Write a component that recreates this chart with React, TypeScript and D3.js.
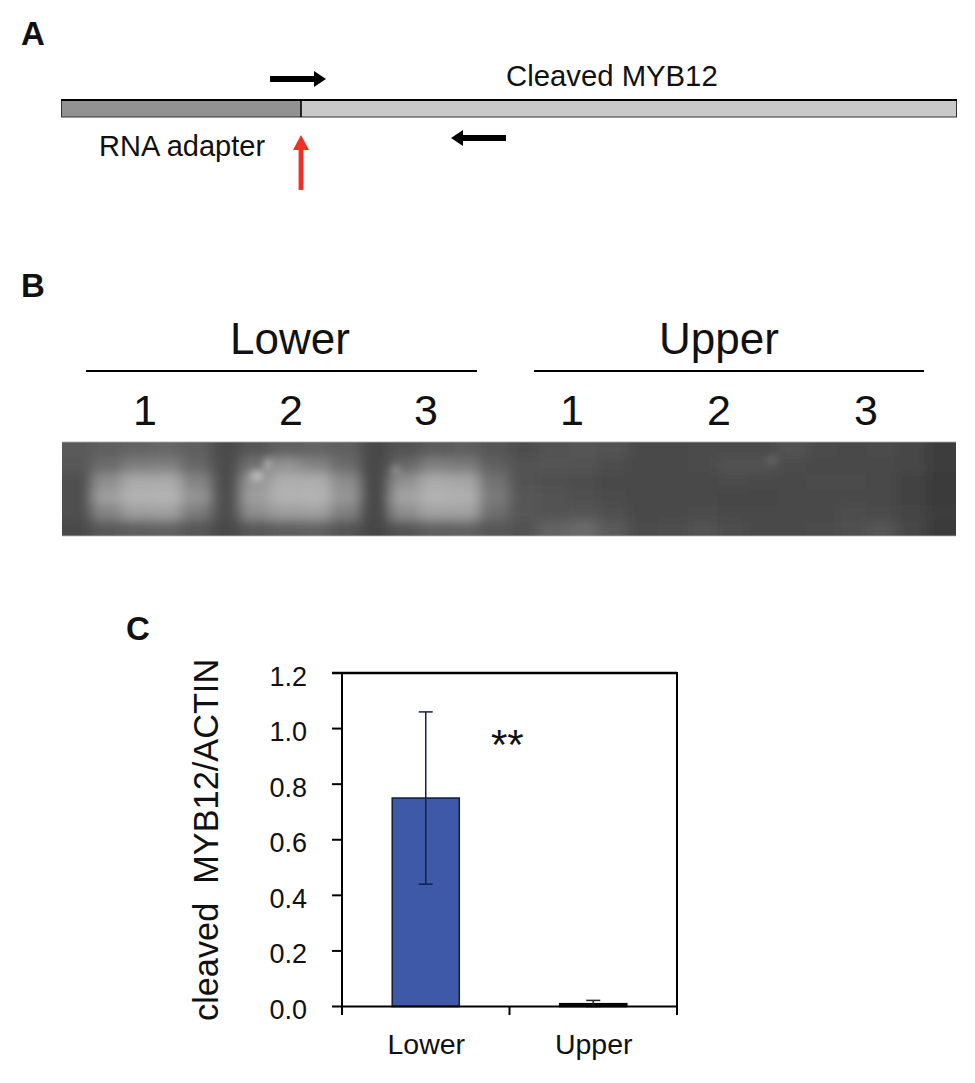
import React from "react";
import * as d3 from "d3";

const font = "'Liberation Sans', Arial, sans-serif";

// Panel A
const transcriptSegments = [
  { name: "RNA adapter", start: 61, end: 301, fill: "#929292" },
  { name: "Cleaved MYB12", start: 301, end: 957, fill: "#c9c9c9" },
];

// Panel B
const gelGroups = ["Lower", "Upper"];
const laneLabels = ["1", "2", "3", "1", "2", "3"];
const laneCenters = [145, 291, 426, 572, 719, 866];
const gelRows = [
  [90,94,100,102,94,76,86,96,100,96,74,82,92,94,86,78,82,84,82,74,74,76,76,76,82,76,74,76,70,62],
  [88,108,126,128,104,78,114,148,132,108,72,104,128,124,96,82,84,82,78,74,72,76,82,82,76,74,74,74,70,60],
  [80,142,170,170,132,78,150,174,174,140,72,145,170,166,114,82,80,78,74,72,72,74,76,74,74,76,76,74,66,58],
  [80,158,178,180,148,80,158,178,180,150,72,162,178,176,122,86,82,80,76,72,72,72,70,70,74,74,74,74,66,58],
  [80,132,158,160,124,80,142,158,160,128,72,142,162,162,110,86,82,84,80,74,74,76,74,72,72,74,78,76,68,60],
  [74,88,94,98,86,74,88,94,98,84,70,84,96,98,86,82,100,106,90,76,78,82,78,72,72,76,80,84,70,58],
];
const gelSpots = [
  { x: 257, y: 476, rx: 7, ry: 5, level: 190 },
  { x: 268, y: 465, rx: 4, ry: 7, level: 172 },
  { x: 396, y: 470, rx: 4, ry: 4, level: 150 },
  { x: 772, y: 460, rx: 7, ry: 4, level: 98 },
];

// Panel C
const categories = ["Lower", "Upper"];
const means = [0.75, 0.01];
const errHigh = [1.06, 0.022];
const errLow = [0.44, 0.0];
const yTicks = [0, 0.2, 0.4, 0.6, 0.8, 1.0, 1.2];
const significance = "**";

const y = d3.scaleLinear().domain([0, 1.2]).range([1006.5, 673]);
const x = d3.scaleBand<string>().domain(categories).range([342, 677]).paddingInner(0.6).paddingOuter(0.3);
const xEdges = d3.scaleLinear().domain([0, 2]).range([342, 677]);

const gelX = d3.scaleBand<number>().domain(d3.range(gelRows[0].length)).range([62, 956]);
const gelY = d3.scaleBand<number>().domain(d3.range(gelRows.length)).range([442, 536]);
const grey = d3.scaleLinear<string>().domain([0, 255]).range(["#000000", "#ffffff"]);

const hArrow = (x0: number, x1: number, yc: number) => {
  const dir = x1 > x0 ? 1 : -1;
  const neck = x1 - dir * 12;
  return d3.line()([
    [x0, yc - 3], [neck, yc - 3], [neck, yc - 8], [x1, yc], [neck, yc + 8], [neck, yc + 3], [x0, yc + 3],
  ]) + "Z";
};
const redArrow = (xc: number, y0: number, y1: number) =>
  d3.line()([
    [xc - 2.4, y0], [xc - 2.4, y1 + 15], [xc - 8, y1 + 15], [xc, y1], [xc + 8, y1 + 15], [xc + 2.4, y1 + 15], [xc + 2.4, y0],
  ]) + "Z";

export default function App() {
  return (
    <svg width={975} height={1083} style={{ position: "absolute", left: 0, top: 0, background: "#fff" }} fontFamily={font} fill="#111">
      <defs>
        <filter id="gelBlur" x="-5%" y="-20%" width="110%" height="140%">
          <feGaussianBlur stdDeviation="6.5 5.5" />
        </filter>
        <filter id="spotBlur" x="-100%" y="-100%" width="300%" height="300%">
          <feGaussianBlur stdDeviation="3.5" />
        </filter>
        <clipPath id="gelClip"><rect x={62} y={442} width={894} height={94} /></clipPath>
      </defs>

      {/* Panel A */}
      <text x={21} y={45} fontSize={33} fontWeight="bold">A</text>
      <text x={506} y={86} fontSize={29.3}>Cleaved MYB12</text>
      <text x={99} y={156} fontSize={29}>RNA adapter</text>
      {transcriptSegments.map((s) => (
        <rect key={s.name} x={s.start} y={100.5} width={s.end - s.start} height={16.5} fill={s.fill} />
      ))}
      <rect x={61.5} y={100} width={895} height={17} fill="none" stroke="#333" strokeWidth={1} />
      <line x1={61} x2={957} y1={100} y2={100} stroke="#000" strokeWidth={1.8} />
      <line x1={301} x2={301} y1={100} y2={117} stroke="#000" strokeWidth={1.6} />
      <path d={hArrow(270, 326, 79)} fill="#000" />
      <path d={hArrow(506, 451, 138)} fill="#000" />
      <path d={redArrow(301, 190, 135)} fill="#ee3124" />

      {/* Panel B */}
      <text x={21} y={297} fontSize={33} fontWeight="bold">B</text>
      {gelGroups.map((g, i) => (
        <g key={g}>
          <text x={[290, 719][i]} y={354} fontSize={44} textAnchor="middle">{g}</text>
          <line x1={[86, 534][i]} x2={[477, 924][i]} y1={371} y2={371} stroke="#000" strokeWidth={2} />
        </g>
      ))}
      {laneLabels.map((l, i) => (
        <text key={i} x={laneCenters[i]} y={425} fontSize={43} textAnchor="middle">{l}</text>
      ))}
      <g clipPath="url(#gelClip)">
        <rect x={62} y={442} width={894} height={94} fill={grey(72)} />
        <g filter="url(#gelBlur)">
          {gelRows.map((row, r) =>
            row.map((v, c) => {
              const top = r === 0 ? 20 : 0;
              const bottom = r === gelRows.length - 1 ? 20 : 0;
              const left = c === 0 ? 20 : 0;
              const right = c === row.length - 1 ? 20 : 0;
              return (
                <rect
                  key={`${r}-${c}`}
                  x={gelX(c)! - left}
                  y={gelY(r)! - top}
                  width={gelX.bandwidth() + left + right + 0.5}
                  height={gelY.bandwidth() + top + bottom + 0.5}
                  fill={grey(v)}
                />
              );
            })
          )}
        </g>
        <g filter="url(#spotBlur)">
          {gelSpots.map((s, i) => (
            <ellipse key={i} cx={s.x} cy={s.y} rx={s.rx} ry={s.ry} fill={grey(s.level)} />
          ))}
        </g>
      </g>
      <line x1={62} x2={956} y1={442} y2={442} stroke="#aaa" strokeWidth={0.8} />
      <line x1={62} x2={956} y1={536} y2={536} stroke="#bbb" strokeWidth={0.8} />

      {/* Panel C */}
      <text x={126} y={640} fontSize={33} fontWeight="bold">C</text>
      <text
        transform="translate(218,1021) rotate(-90)"
        fontSize={34.3}
        xmlSpace="preserve"
        style={{ whiteSpace: "pre" }}
      >
        {"cleaved  MYB12/ACTIN"}
      </text>

      {categories.map((c, i) => (
        <rect
          key={c}
          x={x(c)!}
          y={y(means[i])}
          width={x.bandwidth()}
          height={y(0) - y(means[i])}
          fill={i === 0 ? "#3d59a8" : "#111"}
          stroke={i === 0 ? "#14213f" : "#000"}
          strokeWidth={1.6}
        />
      ))}
      {categories.map((c, i) => {
        const cx = x(c)! + x.bandwidth() / 2;
        return (
          <g key={c} stroke={i === 0 ? "#14204a" : "#222"} strokeWidth={1.5}>
            <line x1={cx} x2={cx} y1={y(errHigh[i])} y2={y(errLow[i])} />
            <line x1={cx - 7} x2={cx + 7} y1={y(errHigh[i])} y2={y(errHigh[i])} />
            <line x1={cx - 7} x2={cx + 7} y1={y(errLow[i])} y2={y(errLow[i])} />
          </g>
        );
      })}

      <rect x={342} y={y(1.2)} width={335} height={y(0) - y(1.2)} fill="none" stroke="#000" strokeWidth={2} />
      <line x1={332} x2={677} y1={y(1.2)} y2={y(1.2)} stroke="#000" strokeWidth={2.4} />
      {yTicks.map((t) => (
        <g key={t}>
          <line x1={332} x2={342} y1={y(t)} y2={y(t)} stroke="#000" strokeWidth={2} />
          <text x={307} y={y(t) + 12.5} fontSize={27} textAnchor="end">{d3.format(".1f")(t)}</text>
        </g>
      ))}
      {d3.range(3).map((i) => (
        <line key={i} x1={xEdges(i)} x2={xEdges(i)} y1={y(0)} y2={1015} stroke="#000" strokeWidth={2} />
      ))}
      {categories.map((c) => (
        <text key={c} x={x(c)! + x.bandwidth() / 2 + 0.5} y={1054} fontSize={28.5} textAnchor="middle">{c}</text>
      ))}
      <text x={491} y={759} fontSize={42}>{significance}</text>
    </svg>
  );
}
